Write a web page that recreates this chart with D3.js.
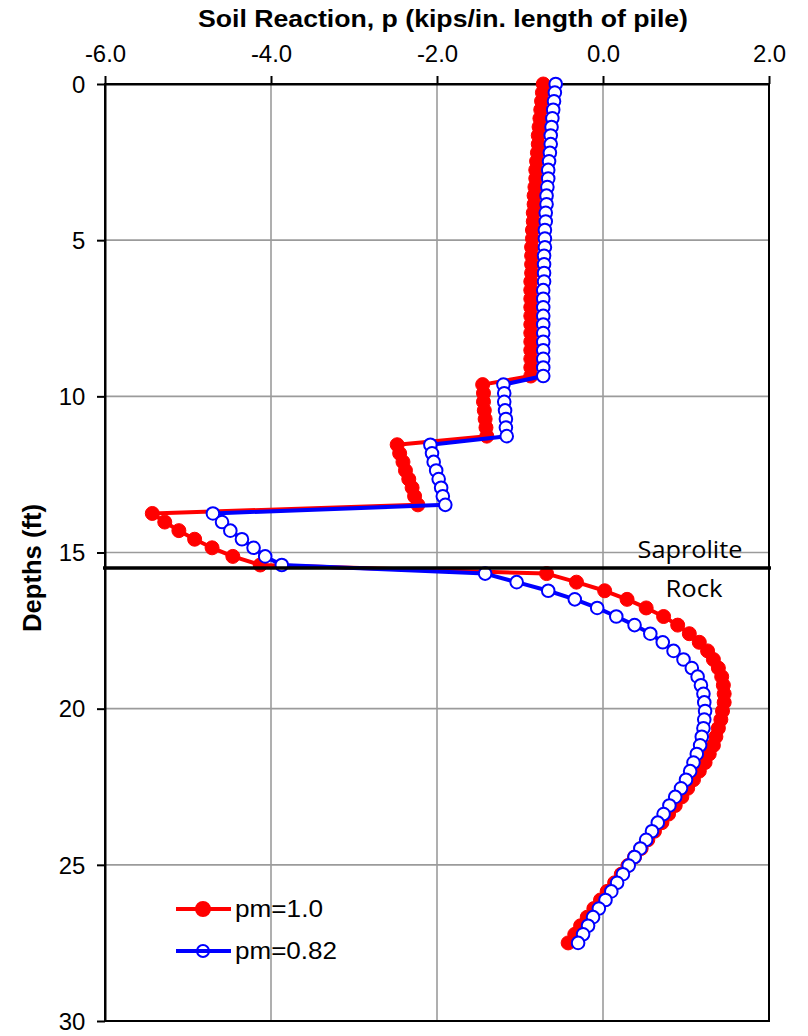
<!DOCTYPE html>
<html><head><meta charset="utf-8">
<script src="https://cdn.jsdelivr.net/npm/d3@7"></script>
<style>body{margin:0;background:#fff}svg{display:block}</style>
</head><body>
<script>
// ---- data ----
const depths = [0,0.275,0.55,0.825,1.1,1.375,1.65,1.925,2.2,2.475,2.75,3.025,3.3,3.575,3.85,4.125,4.4,4.675,4.95,5.225,5.5,5.775,6.05,6.325,6.6,6.875,7.15,7.425,7.7,7.975,8.25,8.525,8.8,9.075,9.35,
9.625,9.9,10.175,10.45,10.725,11.0,11.275,
11.55,11.825,12.1,12.375,12.65,12.925,13.2,13.475,
13.75,14.025,14.3,14.575,14.85,15.125,15.4,
15.675,15.95,16.225,16.5,16.775,17.05,17.325,17.6,17.875,18.15,18.425,18.7,18.975,19.25,19.525,19.8,20.075,20.35,20.625,20.9,21.175,21.45,21.725,22.0,22.275,22.55,22.825,23.1,23.375,23.65,23.925,24.2,24.475,24.75,25.025,25.3,25.575,25.85,26.125,26.4,26.675,26.95,27.225,27.5];
const pm10 = [-0.72,-0.73,-0.74,-0.75,-0.76,-0.77,-0.78,-0.78,-0.79,-0.80,-0.81,-0.81,-0.82,-0.83,-0.83,-0.84,-0.84,-0.85,-0.85,-0.86,-0.86,-0.86,-0.86,-0.87,-0.87,-0.87,-0.87,-0.87,-0.87,-0.87,-0.87,-0.87,-0.87,-0.87,-0.87,
-1.45,-1.44,-1.44,-1.43,-1.42,-1.41,-1.40,
-2.48,-2.45,-2.41,-2.38,-2.34,-2.30,-2.27,-2.23,
-5.43,-5.28,-5.11,-4.92,-4.71,-4.46,-4.13,
-0.68,-0.32,0.02,0.29,0.52,0.73,0.90,1.04,1.16,1.26,1.33,1.39,1.43,1.45,1.46,1.46,1.44,1.42,1.39,1.36,1.33,1.28,1.23,1.16,1.09,1.02,0.95,0.87,0.79,0.71,0.62,0.54,0.46,0.38,0.30,0.22,0.14,0.05,-0.03,-0.11,-0.19,-0.27,-0.34,-0.42];
const pm082 = [-0.57,-0.58,-0.59,-0.60,-0.61,-0.62,-0.63,-0.63,-0.64,-0.65,-0.66,-0.66,-0.67,-0.68,-0.68,-0.69,-0.69,-0.70,-0.70,-0.70,-0.71,-0.71,-0.71,-0.71,-0.72,-0.72,-0.72,-0.72,-0.72,-0.72,-0.72,-0.72,-0.72,-0.72,-0.72,
-1.20,-1.19,-1.19,-1.18,-1.17,-1.17,-1.16,
-2.08,-2.06,-2.04,-2.01,-1.98,-1.95,-1.93,-1.90,
-4.70,-4.59,-4.49,-4.35,-4.21,-4.07,-3.87,
-1.42,-1.04,-0.66,-0.34,-0.07,0.16,0.38,0.57,0.72,0.85,0.97,1.07,1.14,1.18,1.21,1.22,1.23,1.22,1.21,1.19,1.17,1.13,1.09,1.05,1.00,0.94,0.87,0.80,0.73,0.66,0.59,0.52,0.45,0.38,0.31,0.24,0.17,0.10,0.03,-0.05,-0.12,-0.18,-0.24,-0.30];
const seriesNames = ["pm=1.0","pm=0.82"];
const xTicks = [-6,-4,-2,0,2];
const yTicks = [0,5,10,15,20,25,30];
const xDomain = [-6,2];
const yDomain = [0,30];
const layerBoundary = 15.5;
const layerNames = ["Saprolite","Rock"];
const xTitle = "Soil Reaction, p (kips/in. length of pile)";
const yTitle = "Depths (ft)";

// ---- chart ----
const W = 808, H = 1036;
const L = 105, R = 769, T = 84, B = 1021;
const FONT = "'Liberation Sans', Arial, sans-serif";
const svg = d3.select("body").append("svg").attr("width", W).attr("height", H)
  .style("font-family", FONT);

const x = d3.scaleLinear().domain(xDomain).range([L, R]);
const y = d3.scaleLinear().domain(yDomain).range([T, B]);

// gridlines
const grid = svg.append("g").attr("stroke", "#9b9b9b").attr("stroke-width", 1.6);
grid.selectAll(".gx").data(xTicks.slice(1, -1)).join("line")
  .attr("x1", d => x(d)).attr("x2", d => x(d)).attr("y1", T).attr("y2", B);
grid.selectAll(".gy").data(yTicks.slice(1, -1)).join("line")
  .attr("x1", L).attr("x2", R).attr("y1", d => y(d)).attr("y2", d => y(d));

// frame
svg.append("rect").attr("x", L).attr("y", T).attr("width", R - L).attr("height", B - T)
  .attr("fill", "none").attr("stroke", "#000").attr("stroke-width", 2);

// axes
const xAxis = svg.append("g").attr("transform", `translate(0,${T})`)
  .call(d3.axisTop(x).tickValues(xTicks).tickFormat(d => d.toFixed(1)).tickSize(8).tickSizeOuter(0).tickPadding(14));
const yAxis = svg.append("g").attr("transform", `translate(${L},0)`)
  .call(d3.axisLeft(y).tickValues(yTicks).tickFormat(d => String(d)).tickSize(8).tickSizeOuter(0).tickPadding(11));
[xAxis, yAxis].forEach(a => {
  a.select(".domain").attr("stroke", "#000").attr("stroke-width", 2);
  a.selectAll(".tick line").attr("stroke", "#000").attr("stroke-width", 2);
  a.selectAll(".tick text").attr("fill", "#000").style("font-family", FONT).style("font-size", "23px");
});
xAxis.selectAll(".tick text").attr("transform", "scale(1.04,1)");
yAxis.selectAll(".tick text").attr("transform", "scale(1.04,1)").attr("dy", "0.36em");

// titles
svg.append("text").attr("x", 443).attr("y", 27).attr("text-anchor", "middle")
  .attr("font-weight", "bold").attr("font-size", 24)
  .attr("textLength", 490).attr("lengthAdjust", "spacingAndGlyphs").text(xTitle);
svg.append("text").attr("transform", "translate(41,568) rotate(-90)").attr("text-anchor", "middle")
  .attr("font-weight", "bold").attr("font-size", 25)
  .attr("textLength", 128).attr("lengthAdjust", "spacingAndGlyphs").text(yTitle);

// series
const s1 = depths.map((z, i) => ({z, p: pm10[i]}));
const s2 = depths.map((z, i) => ({z, p: pm082[i]}));
const line = d3.line().x(d => x(d.p)).y(d => y(d.z));

svg.append("path").datum(s1).attr("d", line).attr("fill", "none")
  .attr("stroke", "#ff0000").attr("stroke-width", 4).attr("stroke-linejoin", "round");
svg.append("g").selectAll("circle").data(s1).join("circle")
  .attr("cx", d => x(d.p)).attr("cy", d => y(d.z)).attr("r", 7)
  .attr("fill", "#ff0000").attr("stroke", "#ff0000").attr("stroke-width", 1);

svg.append("path").datum(s2).attr("d", line).attr("fill", "none")
  .attr("stroke", "#0000ff").attr("stroke-width", 4).attr("stroke-linejoin", "round");
svg.append("g").selectAll("circle").data(s2).join("circle")
  .attr("cx", d => x(d.p)).attr("cy", d => y(d.z)).attr("r", 6.3)
  .attr("fill", "#fff").attr("stroke", "#0000ff").attr("stroke-width", 2);

// layer boundary
svg.append("line").attr("x1", L - 2).attr("x2", R + 2)
  .attr("y1", y(layerBoundary)).attr("y2", y(layerBoundary))
  .attr("stroke", "#000").attr("stroke-width", 3.5);
const LF = "'Open Sans', 'Noto Sans', sans-serif";
svg.append("text").attr("x", 690).attr("y", 558).attr("text-anchor", "middle")
  .style("font-family", LF).attr("font-size", 23).attr("textLength", 105).attr("lengthAdjust", "spacingAndGlyphs")
  .text(layerNames[0]);
svg.append("text").attr("x", 694).attr("y", 597).attr("text-anchor", "middle")
  .style("font-family", LF).attr("font-size", 23).attr("textLength", 57).attr("lengthAdjust", "spacingAndGlyphs")
  .text(layerNames[1]);

// legend
const legend = svg.append("g");
const lg = [
  {name: seriesNames[0], y: 909, color: "#ff0000", fill: "#ff0000", r: 7, w: 88},
  {name: seriesNames[1], y: 951, color: "#0000ff", fill: "none", r: 6, w: 102}
];
lg.forEach(o => {
  legend.append("line").attr("x1", 176).attr("x2", 231).attr("y1", o.y).attr("y2", o.y)
    .attr("stroke", o.color).attr("stroke-width", 4);
  legend.append("circle").attr("cx", 203).attr("cy", o.y).attr("r", o.r)
    .attr("fill", o.fill).attr("stroke", o.color).attr("stroke-width", 2);
  legend.append("text").attr("x", 235).attr("y", o.y + 8).attr("font-size", 23)
    .attr("textLength", o.w).attr("lengthAdjust", "spacingAndGlyphs").text(o.name);
});
</script>
</body></html>
